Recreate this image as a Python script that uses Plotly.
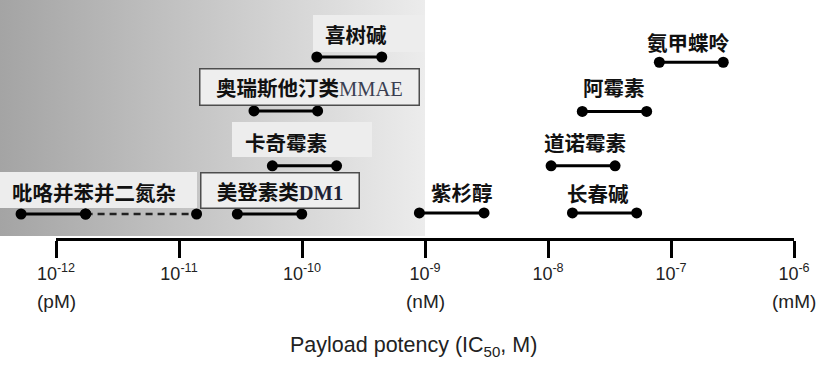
import base64
import numpy as np
import plotly.graph_objects as go

# ---------------- data ----------------
drugs = ["吡咯并苯并二氮杂", "美登素类DM1", "卡奇霉素", "奥瑞斯他汀类MMAE", "喜树碱",
         "紫杉醇", "长春碱", "道诺霉素", "阿霉素", "氨甲蝶呤"]
ic50_low = [5.2e-13, 2.98e-11, 5.74e-11, 4.07e-11, 1.32e-10,
            9.0e-10, 1.58e-8, 1.06e-8, 1.90e-8, 8.04e-8]
ic50_high = [1.74e-12, 9.95e-11, 1.91e-10, 1.34e-10, 4.45e-10,
             3.02e-9, 5.26e-8, 3.51e-8, 6.34e-8, 2.66e-7]
pbd_extended = 1.39e-11          # dashed extension of the PBD range
row_level = [1.0, 1.0, 1.92, 2.97, 4.0, 1.02, 1.02, 1.92, 2.96, 3.9]

tick_vals = [1e-12, 1e-11, 1e-10, 1e-9, 1e-8, 1e-7, 1e-6]
tick_exp = ["-12", "-11", "-10", "-9", "-8", "-7", "-6"]
unit_vals = [1e-12, 1e-9, 1e-6]
unit_text = ["(pM)", "(nM)", "(mM)"]
shade_upper = 1e-9
x_title = "Payload potency (IC<sub>50</sub>, M)"

# ---------------- styling / layout ----------------
W, H = 826, 368
PLOT_H = 238
PX_PER_DEC = 123.0
X0 = -12 - 56 / PX_PER_DEC
X1 = X0 + W / PX_PER_DEC
LVL_PX = 52.33
Y_TOP = 1 + 214 / LVL_PX
Y_BOT = 1 - (PLOT_H - 214) / LVL_PX

CJK = "Noto Sans CJK SC"
tick_text = ["10<sup>%s</sup>" % e for e in tick_exp]
label_html = {
    "奥瑞斯他汀类MMAE": "奥瑞斯他汀类<span style='font-family:Liberation Serif;font-weight:400;color:#3a3f52'>MMAE</span>",
    "美登素类DM1": "美登素类<span style='font-family:Liberation Serif;color:#1d2235'>DM1</span>",
}
label_xshift = [-15, 10, -18.5, 24, 7, 10, -6.5, 1.5, 0, -3]
label_yshift = [22, 24, 24, 23.5, 23, 21, 20, 24, 24, 20]
boxed = {"奥瑞斯他汀类MMAE": (218, 35), "美登素类DM1": (157, 34)}

fig = go.Figure()

# range lines
for i, d in enumerate(drugs):
    fig.add_trace(go.Scatter(
        x=[ic50_low[i], ic50_high[i]], y=[row_level[i]] * 2,
        mode="lines+markers", line=dict(color="black", width=3),
        marker=dict(color="black", size=11), cliponaxis=False,
        hoverinfo="skip", showlegend=False))
# PBD dashed extension
fig.add_trace(go.Scatter(
    x=[ic50_high[0], pbd_extended], y=[row_level[0]] * 2,
    mode="lines+markers", line=dict(color="#222", width=2.5, dash="7px,5px"),
    marker=dict(color="black", size=11), cliponaxis=False,
    hoverinfo="skip", showlegend=False))
# trace carrying the visible scale axis
fig.add_trace(go.Scatter(x=tick_vals, y=[None] * len(tick_vals), xaxis="x2", yaxis="y",
                         mode="markers", hoverinfo="skip", showlegend=False))

annotations = []
for i, d in enumerate(drugs):
    hi = pbd_extended if i == 0 else ic50_high[i]
    xm = (np.log10(ic50_low[i]) + np.log10(hi)) / 2
    a = dict(x=xm, y=row_level[i], xref="x", yref="y", text=label_html.get(d, d),
             showarrow=False, xshift=label_xshift[i], yshift=label_yshift[i],
             font=dict(family=CJK, size=20.5, color="#111", weight=700))
    if d in boxed:
        w, h = boxed[d]
        a.update(width=w, height=h, bgcolor="#eeeeee", bordercolor="#4d4d4d",
                 borderwidth=1.5, borderpad=0)
    annotations.append(a)

for v, t in zip(unit_vals, unit_text):
    annotations.append(dict(x=np.log10(v), y=1 - 301 / PLOT_H, xref="x2", yref="paper",
                            text=t, showarrow=False, yanchor="middle",
                            font=dict(family="Liberation Sans", size=19, color="#222")))
annotations.append(dict(x=413 / W, y=1 - 346 / PLOT_H, xref="paper", yref="paper",
                        text=x_title, showarrow=False, yanchor="middle",
                        font=dict(family="Liberation Sans", size=21.5, color="#222")))

# light label backgrounds (pixel boxes)
bg_boxes = [(313, 425, 15, 52), (232, 372, 122, 157), (0, 197, 172, 208)]
shapes = [dict(type="rect", xref="paper", yref="paper", x0=x0 / W, x1=x1 / W,
               y0=1 - y1 / PLOT_H, y1=1 - y0 / PLOT_H, fillcolor="#ededed",
               line=dict(width=0), layer="below")
          for x0, x1, y0, y1 in bg_boxes]

# gradient background for the sub-nM region
svg = ('<svg xmlns="http://www.w3.org/2000/svg" width="400" height="200" preserveAspectRatio="none">'
       '<defs><linearGradient id="g" x1="0" x2="1" y1="0" y2="0">'
       '<stop offset="0" stop-color="#a4a4a4"/><stop offset="1" stop-color="#ececec"/>'
       '</linearGradient></defs><rect width="400" height="200" fill="url(#g)"/></svg>')
src = "data:image/svg+xml;base64," + base64.b64encode(svg.encode()).decode()
shade_w = (np.log10(shade_upper) - X0) / (X1 - X0)
images = [dict(source=src, xref="paper", yref="paper", x=0, y=1, sizex=shade_w,
               sizey=236 / PLOT_H, xanchor="left", yanchor="top", sizing="stretch",
               layer="below")]

fig.update_layout(
    width=W, height=H, margin=dict(l=0, r=0, t=0, b=H - PLOT_H, pad=0, autoexpand=False),
    paper_bgcolor="white", plot_bgcolor="rgba(0,0,0,0)",
    xaxis=dict(type="log", range=[X0, X1], visible=False, fixedrange=True),
    xaxis2=dict(type="log", range=[-12, -6], anchor="y",
                domain=[56 / W, (56 + 6 * PX_PER_DEC) / W],
                showline=True, linewidth=3, linecolor="black",
                ticks="outside", ticklen=17, tickwidth=3, tickcolor="black",
                tickvals=tick_vals, ticktext=tick_text, showgrid=False, zeroline=False,
                automargin=False, fixedrange=True,
                tickfont=dict(family="Liberation Sans", size=18, color="#222")),
    yaxis=dict(range=[Y_BOT, Y_TOP], visible=False, fixedrange=True, automargin=False),
    annotations=annotations, shapes=shapes, images=images,
)

fig.write_html("out.html", config={"displayModeBar": False},
               post_script="document.body.style.margin='0';document.body.style.overflow='hidden';")
